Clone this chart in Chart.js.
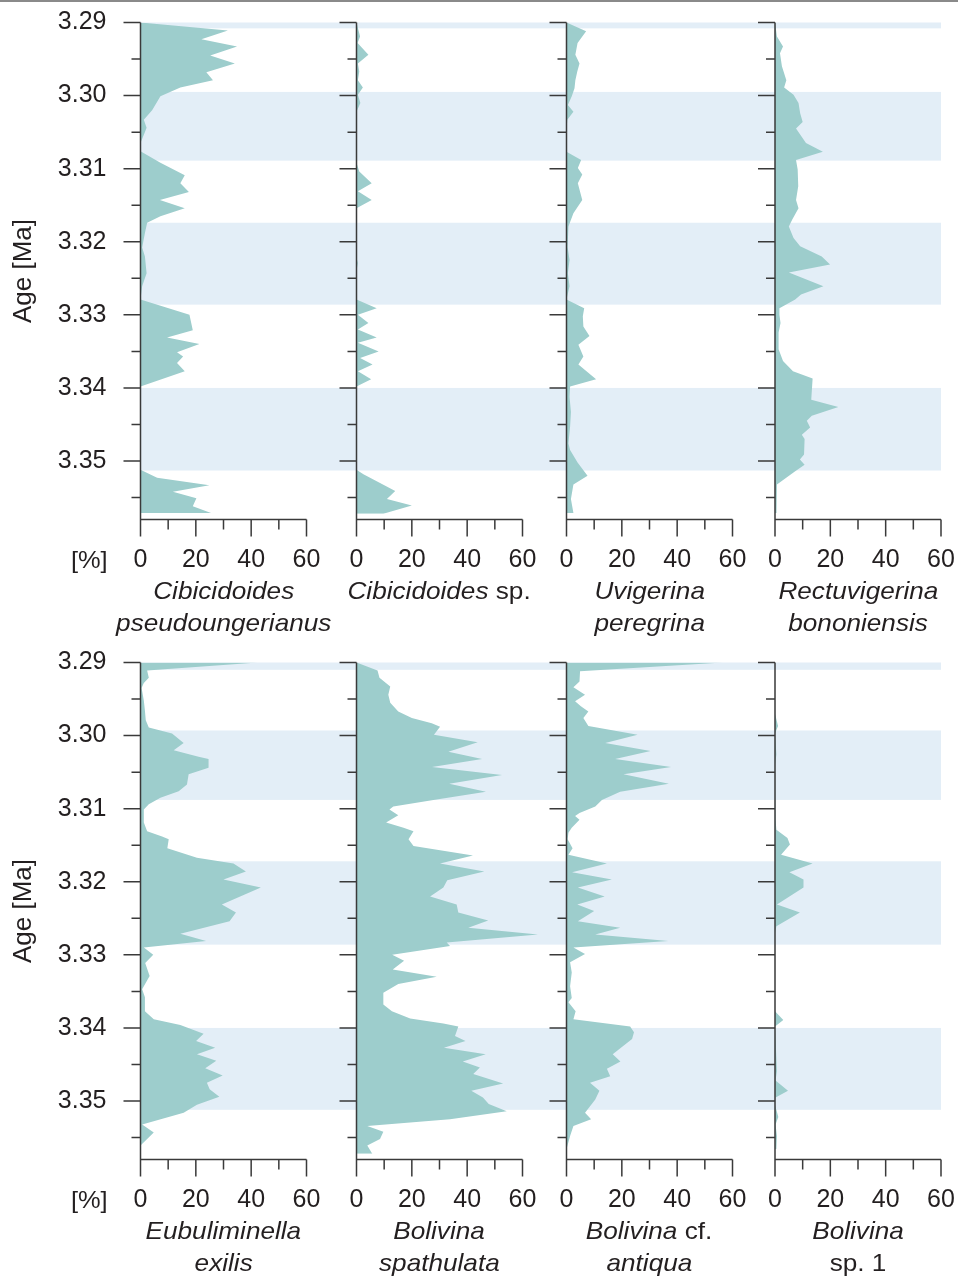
<!DOCTYPE html>
<html><head><meta charset="utf-8">
<script src="https://cdn.jsdelivr.net/npm/chart.js@4.4.1/dist/chart.umd.min.js"></script>
<style>
html,body{margin:0;padding:0;background:#fff;}
#wrap{position:relative;width:958px;height:1279px;overflow:hidden;background:#fff;}
#topline{position:absolute;left:0;top:0;width:958px;height:2px;background:#8a8a8a;}
canvas{position:absolute;}
.lbl{position:absolute;font-family:"Liberation Sans",Arial,Helvetica,sans-serif;font-size:24px;color:#231f20;white-space:nowrap;line-height:32px;text-align:center;}
.lbl span.in{display:inline-block;transform:scaleX(1.09);}
</style></head><body>
<div id="wrap"><div id="topline"></div></div>
<script>
// ---------------- DATA ----------------
const ageTicks = [3.29, 3.30, 3.31, 3.32, 3.33, 3.34, 3.35];
const ageTickLabels = ['3.29', '3.30', '3.31', '3.32', '3.33', '3.34', '3.35'];
const pctTicks = [0, 20, 40, 60];
const pctTickLabels = ['0', '20', '40', '60'];

const bandsTop = [[3.2900, 3.2908], [3.2995, 3.3089], [3.3174, 3.3286], [3.3400, 3.3513]];
const bandsBottom = [[3.2900, 3.2910], [3.2993, 3.3088], [3.3172, 3.3286], [3.3400, 3.3512]];

// Cibicidoides pseudoungerianus
const cibPseudoAge = [3.2900,3.2911,3.2923,3.2933,3.2945,3.2956,3.2968,3.2979,3.2989,3.3001,3.3020,3.3033,3.3044,3.3051,3.3065,3.3076,3.3092,3.3109,3.3120,3.3132,3.3143,3.3154,3.3165,3.3174,3.3188,3.3208,3.3220,3.3243,3.3261,3.3279,3.3300,3.3321,3.3331,3.3340,3.3351,3.3357,3.3366,3.3377,3.3398,3.3512,3.3523,3.3533,3.3542,3.3551,3.3562,3.3571];
const cibPseudoVal = [0,31.6,22,34.9,25.2,34.1,23.8,26.2,14.4,7.2,4.2,1.2,2.2,1.5,0,0,7.2,16,14.4,17.5,7,16,7.2,2.4,1.6,0.6,1.6,2.2,0.6,0,17.7,18.9,9.6,21.3,13.2,15.4,13.2,16,0,0,6,24.9,11.7,20.2,18.9,25.5];

// Cibicidoides sp.
const cibSpAge = [3.2900,3.2919,3.2928,3.2944,3.2956,3.2967,3.2979,3.2989,3.2999,3.3010,3.3022,3.3092,3.3104,3.3120,3.3131,3.3143,3.3154,3.3222,3.3229,3.3240,3.3279,3.3291,3.3300,3.3311,3.3320,3.3331,3.3338,3.3350,3.3359,3.3368,3.3377,3.3388,3.3398,3.3512,3.3518,3.3541,3.3552,3.3561,3.3572];
const cibSpVal = [0,1.3,0.4,4.3,0.5,1,0.5,2.3,0.5,1.4,0,0,1,5.5,0.5,5.5,0,0,0.5,0,0,7.3,0.5,4.3,0.5,7.3,0.5,8,1.3,5.8,0.5,5.3,0,0,2.5,14,11,20,9.7];

// Uvigerina peregrina
const uviPerAge = [3.2900,3.2912,3.2928,3.2944,3.2956,3.2967,3.2979,3.2990,3.3001,3.3013,3.3022,3.3033,3.3047,3.3077,3.3088,3.3099,3.3108,3.3120,3.3143,3.3161,3.3179,3.3207,3.3225,3.3243,3.3261,3.3279,3.3291,3.3302,3.3316,3.3329,3.3341,3.3357,3.3368,3.3388,3.3398,3.3412,3.3433,3.3453,3.3476,3.3485,3.3502,3.3520,3.3532,3.3552,3.3571];
const uviPerVal = [0,7.1,4,3.2,4.7,3.9,3.2,2.9,1.9,0.5,2.5,0.3,0,0,5.3,4.1,5.7,4.1,5.7,2.5,0.7,0.4,1.1,0.5,1.1,0,6.4,5.9,6.1,8.3,4.3,6.1,4.3,10.7,1.3,1.1,1.6,1.3,0.7,1.3,4,7.6,2.5,1.6,2.5];

// Rectuvigerina bononiensis
const rectBonAge = [3.2900,3.2919,3.2933,3.2942,3.2960,3.2979,3.2989,3.2999,3.3010,3.3024,3.3036,3.3045,3.3065,3.3077,3.3088,3.3101,3.3124,3.3143,3.3154,3.3170,3.3179,3.3195,3.3206,3.3220,3.3231,3.3242,3.3261,3.3272,3.3279,3.3291,3.3300,3.3311,3.3324,3.3347,3.3363,3.3377,3.3387,3.3416,3.3426,3.3438,3.3445,3.3454,3.3464,3.3470,3.3491,3.3498,3.3505,3.3514,3.3532,3.3552,3.3571];
const rectBonVal = [0,0.7,2.9,1.8,2.5,4.1,3.3,6.7,8.5,9.1,10,7.6,11.2,17.3,7.6,8.2,8.4,7.6,8.5,6.2,5,6.7,9.1,16.9,19.9,5,17.5,9.4,7.3,1.6,1.6,2,1.3,1.3,2.9,6.5,13.6,13.1,22.9,13.3,11.5,12.7,9.7,10.7,10.5,9,10.7,7.3,0.7,0.4,0.7];

// Eubuliminella exilis
const eubExiAge = [3.2900,3.2911,3.2921,3.2928,3.2935,3.2952,3.2966,3.2979,3.2989,3.2997,3.3010,3.3020,3.3029,3.3032,3.3044,3.3053,3.3067,3.3076,3.3085,3.3094,3.3101,3.3119,3.3131,3.3138,3.3142,3.3154,3.3167,3.3175,3.3186,3.3197,3.3208,3.3231,3.3242,3.3254,3.3271,3.3281,3.3290,3.3300,3.3311,3.3329,3.3347,3.3358,3.3377,3.3388,3.3396,3.3408,3.3418,3.3427,3.3436,3.3445,3.3455,3.3465,3.3475,3.3484,3.3494,3.3505,3.3516,3.3532,3.3543,3.3561];
const eubExiVal = [42.4,2.4,3,1.2,0.4,1.2,1.6,1.9,3,11.4,15.6,12,21,24.6,24.6,17.4,16.8,13.8,7.2,3,1.2,1.2,2.4,7.8,10.2,9.7,20.4,33.6,38.1,30,43.5,29.4,34.5,32.2,14.4,23.7,1.2,4.6,1.7,3.3,0.6,1.6,1.6,4.8,14.4,22.8,20.1,27,20.4,27.4,23.4,29.7,24,25,28.5,20.4,15.6,0.6,4.8,0];

// Bolivina spathulata
const bolSpaAge = [3.2900,3.2911,3.2921,3.2933,3.2944,3.2955,3.2967,3.2976,3.2983,3.2988,3.2999,3.3009,3.3022,3.3032,3.3043,3.3054,3.3066,3.3077,3.3088,3.3097,3.3101,3.3109,3.3119,3.3126,3.3131,3.3142,3.3151,3.3164,3.3175,3.3186,3.3198,3.3208,3.3220,3.3231,3.3242,3.3253,3.3263,3.3272,3.3283,3.3288,3.3300,3.3308,3.3320,3.3330,3.3340,3.3352,3.3368,3.3377,3.3387,3.3394,3.3398,3.3411,3.3418,3.3427,3.3436,3.3446,3.3454,3.3463,3.3476,3.3486,3.3495,3.3504,3.3514,3.3525,3.3534,3.3542,3.3552,3.3561,3.3572];
const bolSpaVal = [0,7.6,8.3,12.2,11.5,12.2,15.1,20,27.2,30.2,28,43.8,33.2,45.4,27.3,52.6,33.5,46.8,27.8,13.3,11.9,15.1,10.7,17,20.6,18.8,20.6,42.1,30.2,46.2,32.8,31.4,26.6,36.2,36.8,47.6,40.4,65.6,32.6,33.8,12.9,17.2,13.1,29,15.1,9.7,9.7,12.8,19.4,31.4,36.8,35.6,39.4,31.6,46.7,38.4,44.6,42.2,53,41.5,45.7,47.8,54.3,33.8,3.9,9.7,8.5,3.9,5.7];

// Bolivina cf. antiqua
const bolAntAge = [3.2900,3.2912,3.2926,3.2934,3.2944,3.2953,3.2960,3.2967,3.2976,3.2987,3.2999,3.3010,3.3021,3.3032,3.3043,3.3053,3.3066,3.3077,3.3088,3.3097,3.3106,3.3110,3.3115,3.3126,3.3133,3.3142,3.3154,3.3163,3.3175,3.3187,3.3197,3.3208,3.3220,3.3231,3.3240,3.3254,3.3263,3.3272,3.3281,3.3290,3.3299,3.3310,3.3324,3.3343,3.3359,3.3365,3.3377,3.3388,3.3398,3.3406,3.3415,3.3436,3.3446,3.3456,3.3466,3.3475,3.3486,3.3498,3.3516,3.3525,3.3534,3.3548,3.3566];
const bolAntVal = [56.6,4.9,4.7,2.5,6.7,3.1,5.2,7.9,6.1,7.9,25.7,14,30.4,17.6,37.8,20.6,37,19.4,12.8,10.4,4.7,3.1,4.7,1.9,0.7,0.4,2.2,0.7,14.6,2,16.4,4.1,13.8,3.9,10,4.1,19.4,10.4,36.8,2.5,6.7,1.3,1.9,1.3,1.9,0.7,3.3,2.5,23,24.4,23.7,16.7,19.5,14.6,15.8,8.5,11.9,10.4,6.7,8.9,2.5,1.3,0];

// Bolivina sp. 1
const bolSp1Age = [3.2900,3.2970,3.2987,3.2997,3.3026,3.3040,3.3115,3.3129,3.3140,3.3149,3.3163,3.3175,3.3187,3.3197,3.3208,3.3231,3.3242,3.3261,3.3270,3.3377,3.3389,3.3398,3.3459,3.3472,3.3486,3.3495,3.3505,3.3522,3.3532,3.3548,3.3566];
const bolSp1Val = [0,0,1.1,0,0.5,0,0.2,0.5,4.5,5.4,2.2,13.6,5.2,10.3,10.3,0.7,9,0.5,0,0,3,0,0.7,0.2,4.7,0.2,0,1.2,0.2,0.7,0.5];

// ---------------- STYLE / LAYOUT ----------------
const FILL = '#9dcdcc';
const BAND = '#e3eef7';
const AXIS = '#3a3a3a';
const TEXT = '#231f20';
const FONT = {family: '"Liberation Sans", Arial, Helvetica, sans-serif', size: 25};
const AGE_MIN = 3.29, AGE_MAX = 3.358, X_SCALE_MAX = 66;

const rowTop = [0, 640];
const chartTop = 22.5, chartBottom = 519.5, canvasH = 580;
const axisX = [140.5, 356.5, 566.5, 775];
const canvasLeft = [0, 326, 536, 745];
const pxPer = 166 / 60;

const panels = [
  {age: cibPseudoAge, val: cibPseudoVal, row: 0, col: 0, name: [[['i','Cibicidoides']], [['i','pseudoungerianus']]]},
  {age: cibSpAge, val: cibSpVal, row: 0, col: 1, name: [[['i','Cibicidoides'], ['n',' sp.']]]},
  {age: uviPerAge, val: uviPerVal, row: 0, col: 2, name: [[['i','Uvigerina']], [['i','peregrina']]]},
  {age: rectBonAge, val: rectBonVal, row: 0, col: 3, name: [[['i','Rectuvigerina']], [['i','bononiensis']]]},
  {age: eubExiAge, val: eubExiVal, row: 1, col: 0, name: [[['i','Eubuliminella']], [['i','exilis']]]},
  {age: bolSpaAge, val: bolSpaVal, row: 1, col: 1, name: [[['i','Bolivina']], [['i','spathulata']]]},
  {age: bolAntAge, val: bolAntVal, row: 1, col: 2, name: [[['i','Bolivina'], ['n',' cf.']], [['i','antiqua']]]},
  {age: bolSp1Age, val: bolSp1Val, row: 1, col: 3, name: [[['i','Bolivina']], [['n','sp. 1']]]}
];

const bandPlugin = {
  id: 'bands',
  beforeDatasetsDraw(chart, args, opts) {
    const {ctx, scales: {x, y}} = chart;
    const xl = x.getPixelForValue(0);
    const xr = opts.toEnd ? x.getPixelForValue(60) : opts.rightEdge;
    ctx.save();
    ctx.fillStyle = BAND;
    opts.bands.forEach(([a, b]) => {
      const y1 = y.getPixelForValue(a), y2 = y.getPixelForValue(b);
      ctx.fillRect(xl, y1, xr - xl, y2 - y1);
    });
    ctx.restore();
  }
};

const axisPlugin = {
  id: 'panelAxes',
  afterDatasetsDraw(chart) {
    const {ctx, chartArea, scales: {x, y}} = chart;
    const x0 = x.getPixelForValue(0), x60 = x.getPixelForValue(60);
    const yt = y.getPixelForValue(AGE_MIN), yb = chartArea.bottom;
    ctx.save();
    ctx.strokeStyle = AXIS;
    ctx.lineWidth = 1.5;
    ctx.beginPath();
    ctx.moveTo(x0, yt); ctx.lineTo(x0, yb); ctx.lineTo(x60, yb);
    for (let k = 0; k <= 13; k++) {
      const py = y.getPixelForValue(AGE_MIN + k * 0.005);
      const len = (k % 2 === 0) ? 17 : 9;
      ctx.moveTo(x0 - len, py); ctx.lineTo(x0, py);
    }
    for (let k = 0; k <= 6; k++) {
      const px = x.getPixelForValue(k * 10);
      const len = (k % 2 === 0) ? 17 : 10;
      ctx.moveTo(px, yb); ctx.lineTo(px, yb + len);
    }
    ctx.stroke();
    ctx.restore();
  }
};

function zeroPad(s) { s.paddingTop = 0; s.paddingBottom = 0; s.paddingLeft = 0; s.paddingRight = 0; }

const wrap = document.getElementById('wrap');
const chartW = X_SCALE_MAX * pxPer;

panels.forEach(p => {
  const c = p.col;
  const left = canvasLeft[c];
  const leftPad = axisX[c] - left;
  const width = c < 3 ? Math.ceil(axisX[c + 1] - left + 1) : 958 - left;
  const rightPad = width - leftPad - chartW;
  const cv = document.createElement('canvas');
  cv.width = width; cv.height = canvasH;
  cv.style.left = left + 'px'; cv.style.top = rowTop[p.row] + 'px';
  cv.style.width = width + 'px'; cv.style.height = canvasH + 'px';
  wrap.appendChild(cv);

  new Chart(cv, {
    type: 'line',
    data: {datasets: [{
      data: p.age.map((a, i) => ({x: p.val[i], y: a})),
      fill: 'origin', backgroundColor: FILL, borderColor: 'rgba(0,0,0,0)',
      borderWidth: 0, pointRadius: 0, tension: 0
    }]},
    options: {
      indexAxis: 'y', responsive: false, animation: false, devicePixelRatio: 1,
      layout: {padding: {top: chartTop, right: rightPad, left: 0, bottom: 0}},
      plugins: {
        legend: {display: false}, tooltip: {enabled: false},
        bands: {bands: p.row === 0 ? bandsTop : bandsBottom, toEnd: c === 3, rightEdge: c < 3 ? axisX[c + 1] - left : 0}
      },
      scales: {
        x: {
          type: 'linear', min: 0, max: X_SCALE_MAX, position: 'bottom',
          grid: {display: false, drawTicks: false}, border: {display: false},
          ticks: {padding: 26, font: FONT, color: TEXT, autoSkip: false, maxRotation: 0,
                  callback: (v, i) => pctTickLabels[i]},
          afterBuildTicks: s => { s.ticks = pctTicks.map(v => ({value: v})); },
          afterFit: s => { s.height = canvasH - chartBottom; zeroPad(s); }
        },
        y: {
          type: 'linear', min: AGE_MIN, max: AGE_MAX, reverse: true, position: 'left',
          grid: {display: false, drawTicks: false}, border: {display: false},
          ticks: {display: c === 0, padding: 34, font: FONT, color: TEXT, autoSkip: false,
                  callback: (v, i) => ageTickLabels[i]},
          afterBuildTicks: s => { s.ticks = ageTicks.map(v => ({value: v})); },
          afterFit: s => { s.width = leftPad; zeroPad(s); },
          title: {display: c === 0, text: 'Age [Ma]', font: {family: FONT.family, size: 26}, color: TEXT, padding: {top: 8, bottom: 0}}
        }
      }
    },
    plugins: [bandPlugin, axisPlugin]
  });

  // species label
  const lbl = document.createElement('div');
  lbl.className = 'lbl';
  const cx = axisX[c] + 83;
  lbl.style.left = (cx - 150) + 'px';
  lbl.style.width = '300px';
  lbl.style.top = (rowTop[p.row] + 575) + 'px';
  lbl.innerHTML = p.name.map(line => '<div><span class="in">' + line.map(([t, s]) => t === 'i' ? '<i>' + s + '</i>' : s).join('') + '</span></div>').join('');
  wrap.appendChild(lbl);

  if (c === 0) {
    const pct = document.createElement('div');
    pct.className = 'lbl';
    pct.style.left = '0px'; pct.style.width = '108px'; pct.style.textAlign = 'right';
    pct.style.top = (rowTop[p.row] + 544) + 'px';
    pct.innerHTML = '<span style="display:inline-block;transform:scaleX(1.06);transform-origin:right center">[%]</span>';
    wrap.appendChild(pct);
  }
});
</script></body></html>
